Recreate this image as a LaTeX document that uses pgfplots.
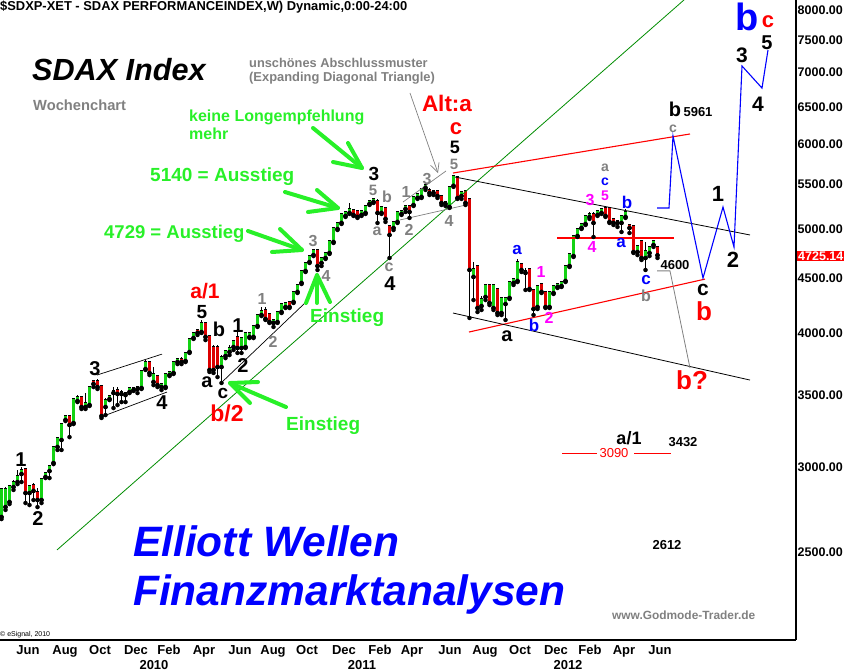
\documentclass[border=0pt]{standalone}
\usepackage{pgfplots}
\pgfplotsset{compat=1.18}
\usepackage{pgfplotstable}
\usepackage{fontspec}
\setmainfont{Liberation Sans}
\usetikzlibrary{arrows.meta}
\definecolor{cgreen}{RGB}{20,210,20}
\definecolor{cred}{RGB}{220,0,0}
\definecolor{lgreen}{RGB}{40,240,40}
\definecolor{tgray}{RGB}{128,128,128}
\definecolor{mag}{RGB}{255,0,255}
\definecolor{ablue}{RGB}{0,0,255}
\definecolor{tline}{RGB}{0,140,0}
\newcommand{\fs}[1]{\fontsize{#1}{#1}\selectfont}
\newcommand{\lab}[5]{\node[inner sep=0pt, font=\bfseries\fs{#1}, text=#2] at (axis cs:#3,#4) {#5};}

% weekly candles, green (close >= open)
\pgfplotstableread{
w o h l c
0 2695 2867 2683 2856
1 2753 2874 2736 2856
2 2783 2886 2771 2874
3 2874 2918 2856 2899
4 2905 2981 2892 2936
5 2955 3000 2905 2974
7 2837 2886 2765 2874
10 2795 2930 2777 2918
11 2936 2968 2930 2955
12 2974 3013 2930 3000
13 3026 3132 3019 3126
14 3132 3199 3112 3185
15 3179 3297 3112 3283
16 3319 3354 3311 3340
18 3297 3471 3290 3464
19 3457 3501 3449 3478
21 3412 3516 3398 3434
22 3427 3562 3420 3554
26 3412 3478 3354 3457
27 3471 3501 3464 3486
28 3516 3562 3405 3524
30 3509 3539 3449 3516
32 3524 3554 3516 3547
33 3539 3554 3532 3547
35 3554 3687 3547 3679
36 3702 3775 3695 3750
38 3600 3718 3577 3655
40 3562 3585 3539 3577
41 3562 3663 3554 3655
42 3655 3679 3647 3671
43 3671 3758 3663 3750
44 3758 3790 3742 3775
46 3767 3832 3758 3823
47 3840 3949 3832 3940
48 3957 4008 3949 3991
50 4008 4113 4000 4078
55 3718 3815 3593 3790
56 3807 3857 3790 3840
57 3840 3898 3815 3865
58 3881 3940 3857 3923
60 3873 3966 3832 3949
61 3881 4000 3873 3991
62 3966 4008 3957 3991
63 3966 4060 3957 4052
64 4060 4157 4052 4148
65 4157 4229 4148 4184
68 4087 4113 4052 4104
69 4095 4184 4087 4175
70 4184 4256 4175 4247
71 4229 4265 4220 4256
73 4275 4368 4266 4358
74 4368 4434 4358 4424
75 4453 4569 4443 4559
76 4569 4648 4559 4638
77 4658 4718 4648 4709
78 4728 4790 4718 4769
80 4648 4709 4618 4688
81 4698 4749 4688 4739
82 4749 4873 4739 4862
83 4862 5011 4852 5000
84 5000 5065 4989 5054
85 5065 5164 5054 5153
86 5142 5186 5131 5175
87 5175 5287 5164 5208
90 5153 5197 5142 5186
91 5175 5253 5164 5242
92 5276 5310 5264 5298
93 5298 5344 5287 5321
95 5175 5253 5164 5231
98 5011 5076 4989 5065
99 5076 5186 5065 5175
100 5164 5208 5153 5186
101 5219 5253 5186 5242
103 5264 5356 5253 5344
104 5344 5390 5333 5378
105 5356 5449 5344 5437
106 5461 5521 5437 5485
108 5402 5425 5378 5413
111 5276 5310 5253 5287
112 5242 5473 5231 5461
113 5485 5615 5473 5590
115 5367 5425 5333 5402
118 4511 4658 4293 4579
120 4238 4331 4202 4293
121 4321 4443 4293 4424
123 4220 4434 4202 4424
125 4175 4321 4157 4303
126 4256 4321 4113 4303
127 4312 4462 4303 4453
128 4453 4501 4434 4482
129 4472 4688 4462 4648
134 4229 4424 4211 4415
137 4229 4368 4220 4358
138 4358 4424 4349 4415
139 4415 4453 4405 4434
140 4424 4462 4415 4453
141 4472 4618 4462 4608
142 4618 4739 4608 4728
143 4718 4936 4709 4915
144 4925 5000 4915 4989
145 5011 5054 5000 5043
146 5054 5142 5043 5131
147 5131 5186 5109 5153
149 5153 5208 5142 5186
150 5175 5231 5164 5208
154 5065 5098 5022 5076
155 5065 5142 4968 5131
156 5131 5219 5120 5175
159 4759 4831 4728 4811
161 4698 4862 4579 4759
162 4749 4821 4718 4800
163 4831 4883 4811 4862
}\greendata

% weekly candles, red (close < open)
\pgfplotstableread{
w o h l c
6 2981 2993 2777 2837
8 2880 2899 2795 2850
9 2837 2867 2753 2795
17 3340 3354 3199 3283
20 3478 3486 3398 3412
23 3600 3616 3562 3585
24 3600 3624 3547 3562
25 3562 3570 3333 3347
29 3532 3562 3427 3509
31 3509 3524 3449 3501
34 3554 3570 3516 3547
37 3750 3767 3655 3671
39 3639 3647 3562 3577
45 3775 3798 3742 3758
49 4017 4034 3983 4000
51 4078 4095 3940 3966
52 3966 3974 3679 3695
53 3873 3898 3671 3695
54 3873 3898 3639 3718
59 3957 4008 3832 3873
66 4193 4229 4113 4121
67 4157 4175 4087 4095
72 4265 4284 4220 4229
79 4769 4780 4579 4618
88 5197 5219 5142 5153
89 5186 5208 5120 5131
94 5298 5333 5065 5175
96 5219 5242 5076 5109
97 5022 5043 4698 4936
102 5242 5264 5120 5186
107 5425 5461 5378 5402
109 5413 5425 5344 5367
110 5356 5367 5264 5287
114 5578 5590 5333 5344
116 5413 5425 5264 5287
117 5321 5333 4131 4579
119 4608 4628 4184 4220
122 4424 4443 4247 4266
124 4387 4405 4157 4175
130 4628 4638 4559 4579
131 4559 4598 4387 4550
132 4579 4598 4387 4396
133 4377 4387 4157 4211
135 4434 4453 4358 4368
136 4358 4368 4220 4229
148 5153 5186 4915 5065
151 5219 5253 5131 5142
152 5219 5242 5065 5076
153 5098 5120 5043 5065
157 5032 5043 4957 5011
158 5022 5032 4749 4759
160 4862 4883 4678 4698
164 4800 4811 4698 4725.14
}\reddata

\begin{document}
\begin{tikzpicture}
\begin{axis}[
  at={(0,0)}, anchor=north west,
  width=796pt, height=640pt, scale only axis,
  xmin=0, xmax=796, ymode=log, ymin=2069.9, ymax=8173.7,
  axis x line*=bottom, axis y line*=right,
  axis line style={line width=1.2pt, black},
  major tick length=0pt, minor tick length=0pt,
  ytick={2500,3000,3500,4000,4500,5000,5500,6000,6500,7000,7500,8000},
  yticklabels={2500.00,3000.00,3500.00,4000.00,4500.00,5000.00,5500.00,6000.00,6500.00,7000.00,7500.00,8000.00},
  yticklabel style={inner sep=1.5pt, anchor=west, font=\bfseries\fs{12.5}},
  xtick={28,65,100,136,169,204,240,273,307,344,380,412,450,485,520,556,590,624,660},
  xticklabels={Jun,Aug,Oct,Dec,Feb,Apr,Jun,Aug,Oct,Dec,Feb,Apr,Jun,Aug,Oct,Dec,Feb,Apr,Jun},
  xticklabel style={anchor=base, inner sep=0pt, yshift=-15pt, font=\bfseries\fs{13}},
  extra x ticks={154,362,568},
  extra x tick labels={2010,2011,2012},
  extra x tick style={xticklabel style={yshift=-15pt}},
  clip=true,
]
% wicks
\addplot[only marks, mark=none, forget plot, error bars/.cd, y dir=plus, y explicit, error mark=none,
  error bar style={line width=0.9pt, draw=black}]
  table[x expr=1.5+4*\thisrow{w}, y=l, y error plus expr=\thisrow{h}-\thisrow{l}] {\greendata};
\addplot[only marks, mark=none, forget plot, error bars/.cd, y dir=plus, y explicit, error mark=none,
  error bar style={line width=0.9pt, draw=black}]
  table[x expr=1.5+4*\thisrow{w}, y=l, y error plus expr=\thisrow{h}-\thisrow{l}] {\reddata};
% bodies
\addplot[only marks, mark=none, forget plot, error bars/.cd, y dir=plus, y explicit, error mark=none,
  error bar style={line width=3.8pt, line cap=rect, draw=black}]
  table[x expr=1.5+4*\thisrow{w}, y=o, y error plus expr=\thisrow{c}-\thisrow{o}] {\greendata};
\addplot[only marks, mark=none, forget plot, error bars/.cd, y dir=plus, y explicit, error mark=none,
  error bar style={line width=2.5pt, line cap=rect, draw=cgreen}]
  table[x expr=1.5+4*\thisrow{w}, y=o, y error plus expr=\thisrow{c}-\thisrow{o}] {\greendata};
\addplot[only marks, mark=none, forget plot, error bars/.cd, y dir=plus, y explicit, error mark=none,
  error bar style={line width=3.8pt, line cap=rect, draw=black}]
  table[x expr=1.5+4*\thisrow{w}, y=c, y error plus expr=\thisrow{o}-\thisrow{c}] {\reddata};
\addplot[only marks, mark=none, forget plot, error bars/.cd, y dir=plus, y explicit, error mark=none,
  error bar style={line width=2.5pt, line cap=rect, draw=cred}]
  table[x expr=1.5+4*\thisrow{w}, y=c, y error plus expr=\thisrow{o}-\thisrow{c}] {\reddata};

% trend lines
\addplot[tline, line width=0.8pt] coordinates {(57,2511) (684,8173.7)};
\addplot[black, line width=0.7pt] coordinates {(97,3655) (162,3823)};
\addplot[black, line width=0.7pt] coordinates {(101,3340) (167,3524)};
\addplot[black, line width=0.7pt] coordinates {(222,3600) (305,4266)};
\addplot[tgray, line width=0.7pt] coordinates {(400,5098) (466,5264)};
\addplot[tgray, line width=0.7pt] coordinates {(403,5298) (446,5663)};
\addplot[tgray, line width=0.7pt, -{Straight Barb[length=9pt,width=9pt]}] coordinates {(410,6695) (438,5638)};
\addplot[red, line width=1.1pt] coordinates {(453,5638) (690,6131)};
\addplot[red, line width=1.1pt] coordinates {(469,4008) (705,4490)};
\addplot[red, line width=1.1pt] coordinates {(557,4904) (674,4904)};
\addplot[red, line width=1.3pt] coordinates {(562,3090) (597,3090)};
\addplot[red, line width=1.3pt] coordinates {(634,3090) (671,3090)};
\addplot[black, line width=0.8pt] coordinates {(455,5590) (750,4936)};
\addplot[black, line width=0.8pt] coordinates {(453,4175) (750,3616)};
\addplot[tgray, line width=0.8pt] coordinates {(657,4570) (670,4570) (690,3710)};
\addplot[ablue, line width=1.1pt] coordinates {(657,5230) (669,5230) (673,6104) (703,4500) (723,5241) (734,4810) (742,7094) (762,6766) (768,7342)};
\end{axis}

\begin{axis}[
  at={(0,0)}, anchor=north west,
  width=796pt, height=640pt, scale only axis,
  xmin=0, xmax=796, ymin=0, ymax=640, y dir=reverse,
  hide axis, clip=false,
]
% green arrows
\addplot[lgreen, line width=4pt, line cap=round, line join=round] coordinates {(313,128) (362,168)};
\addplot[lgreen, line width=4pt, line cap=round, line join=round] coordinates {(333,162) (362,168) (348,143)};
\addplot[lgreen, line width=4pt, line cap=round, line join=round] coordinates {(285,192) (338,208)};
\addplot[lgreen, line width=4pt, line cap=round, line join=round] coordinates {(308,212) (338,208) (317,190)};
\addplot[lgreen, line width=4pt, line cap=round, line join=round] coordinates {(248,231) (302,250)};
\addplot[lgreen, line width=4pt, line cap=round, line join=round] coordinates {(272,252) (302,250) (280,229)};
\addplot[lgreen, line width=4pt, line cap=round, line join=round] coordinates {(317,303) (317,275)};
\addplot[lgreen, line width=4pt, line cap=round, line join=round] coordinates {(306,303) (317,275) (330,302)};
\addplot[lgreen, line width=4pt, line cap=round, line join=round] coordinates {(286,407) (230,383)};
\addplot[lgreen, line width=4pt, line cap=round, line join=round] coordinates {(250,403) (230,383) (258,382)};

% title and texts
\node[anchor=base west, inner sep=0pt, font=\bfseries\fs{12.9}] at (axis cs:0,10) {\$SDXP-XET - SDAX PERFORMANCEINDEX,W) Dynamic,0:00-24:00};
\node[anchor=base west, inner sep=0pt, font=\bfseries\itshape\fs{30.6}] at (axis cs:32,80) {SDAX Index};
\node[anchor=base west, inner sep=0pt, font=\bfseries\fs{14.7}, text=tgray] at (axis cs:33,110) {Wochenchart};
\node[anchor=base west, inner sep=0pt, font=\bfseries\fs{12.8}, text=tgray] at (axis cs:249,67) {unschönes Abschlussmuster};
\node[anchor=base west, inner sep=0pt, font=\bfseries\fs{12.9}, text=tgray] at (axis cs:249,81) {(Expanding Diagonal Triangle)};
\node[anchor=base west, inner sep=0pt, font=\bfseries\fs{16}, text=lgreen] at (axis cs:189,121) {keine Longempfehlung};
\node[anchor=base west, inner sep=0pt, font=\bfseries\fs{16}, text=lgreen] at (axis cs:189,139) {mehr};
\node[anchor=base west, inner sep=0pt, font=\bfseries\fs{19}, text=lgreen] at (axis cs:150,181) {5140 = Ausstieg};
\node[anchor=base west, inner sep=0pt, font=\bfseries\fs{18.5}, text=lgreen] at (axis cs:104,238) {4729 = Ausstieg};
\node[anchor=base west, inner sep=0pt, font=\bfseries\fs{19}, text=lgreen] at (axis cs:310,322) {Einstieg};
\node[anchor=base west, inner sep=0pt, font=\bfseries\fs{19}, text=lgreen] at (axis cs:286,430) {Einstieg};
\node[anchor=base west, inner sep=0pt, font=\bfseries\itshape\fs{42.5}, text=ablue] at (axis cs:133,556) {Elliott Wellen};
\node[anchor=base west, inner sep=0pt, font=\bfseries\itshape\fs{42.5}, text=ablue] at (axis cs:133,605) {Finanzmarktanalysen};
\node[anchor=base west, inner sep=0pt, font=\bfseries\fs{11.9}, text=tgray] at (axis cs:612,619) {www.Godmode-Trader.de};
\node[anchor=base west, inner sep=0pt, font=\fs{7}] at (axis cs:0,636) {\textcopyright\ eSignal, 2010};
\node[anchor=west, inner sep=1pt, fill=red, text=white, font=\bfseries\fs{12.5}] at (axis cs:797,256) {4725.14};

% black wave labels
\lab{20}{black}{21}{460}{1}
\lab{20}{black}{38}{519}{2}
\lab{20}{black}{95}{369}{3}
\lab{20}{black}{162}{403}{4}
\lab{19}{black}{202}{312}{5}
\lab{20}{black}{219}{329}{b}
\lab{20}{black}{238}{326}{1}
\lab{20}{black}{243}{366}{2}
\lab{20}{black}{207}{382}{a}
\lab{19}{black}{223}{393}{c}
\lab{19}{black}{374}{174}{3}
\lab{20}{black}{390}{284}{4}
\lab{18}{black}{455}{147}{5}
\lab{20}{black}{507}{336}{a}
\lab{20}{black}{675}{109}{b}
\lab{22}{black}{718}{194}{1}
\lab{22}{black}{733}{260}{2}
\lab{21}{black}{703}{290}{c}
\lab{21}{black}{742}{55}{3}
\lab{21}{black}{758}{104}{4}
\lab{20}{black}{767}{43}{5}
\lab{18}{black}{629}{438}{a/1}
% red labels
\lab{21}{red}{205}{291}{a/1}
\lab{23}{red}{227}{413}{b/2}
\lab{22.5}{red}{447}{103}{Alt:a}
\lab{22}{red}{456}{129}{c}
\lab{26}{red}{704}{311}{b}
\lab{26}{red}{692}{380}{b?}
\lab{22}{red}{768}{22}{c}
% gray labels
\lab{16}{tgray}{262}{299}{1}
\lab{16}{tgray}{273}{342}{2}
\lab{16}{tgray}{313}{241}{3}
\lab{16}{tgray}{326}{276}{4}
\lab{15}{tgray}{373}{190}{5}
\lab{16}{tgray}{387}{197}{b}
\lab{16}{tgray}{377}{231}{a}
\lab{16}{tgray}{389}{267}{c}
\lab{16}{tgray}{406}{192}{1}
\lab{16}{tgray}{409}{230}{2}
\lab{16}{tgray}{427}{179}{3}
\lab{16}{tgray}{449}{221}{4}
\lab{15}{tgray}{454}{164}{5}
\lab{14}{tgray}{605}{168}{a}
\lab{14}{tgray}{673}{129}{c}
\lab{16}{tgray}{646}{296}{b}
% blue labels
\lab{17}{ablue}{517}{250}{a}
\lab{17}{ablue}{534}{325}{b}
\lab{14}{ablue}{605}{182}{c}
\lab{17}{ablue}{627}{202}{b}
\lab{17}{ablue}{621}{243}{a}
\lab{17}{ablue}{646}{280}{c}
\lab{38}{ablue}{747}{17}{b}
% magenta labels
\lab{16}{mag}{541}{272}{1}
\lab{16}{mag}{549}{318}{2}
\lab{16}{mag}{590}{200}{3}
\lab{16}{mag}{592}{247}{4}
\lab{14}{mag}{605}{196}{5}
% numbers
\lab{13}{black}{698}{112}{5961}
\lab{13}{black}{675}{265}{4600}
\lab{13}{black}{683}{442}{3432}
\node[inner sep=0pt, font=\fs{13}, text=red] at (axis cs:614,453) {3090};
\lab{13}{black}{667}{545}{2612}
\end{axis}
\pgfresetboundingbox
\useasboundingbox (0,0) rectangle (844pt,-672pt);
\end{tikzpicture}
\end{document}
